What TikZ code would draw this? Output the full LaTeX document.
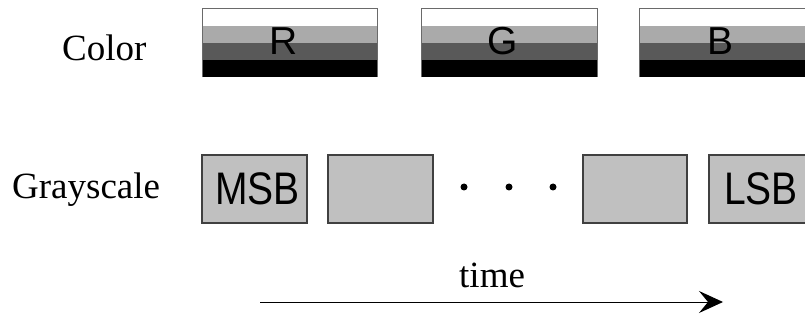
\documentclass[tikz,border=0pt]{standalone}
\usepackage{fontspec}
\usepackage{graphicx}
\setmainfont{Liberation Serif}
\newfontfamily\boxfont{Liberation Sans}
\usetikzlibrary{arrows.meta}
\definecolor{stripeA}{HTML}{AAAAAA}
\definecolor{stripeB}{HTML}{595959}
\definecolor{slotfill}{HTML}{C0C0C0}
\definecolor{slotedge}{HTML}{404040}
\definecolor{baredge}{HTML}{6A6A6A}
\tikzset{
  rowlabel/.style={anchor=base west, inner sep=0pt, font=\fontsize{37}{44}\selectfont},
  chanlabel/.style={anchor=base, inner sep=0pt, font=\boxfont\fontsize{39}{46}\selectfont},
  slotlabel/.style={anchor=base, inner sep=0pt, font=\boxfont\fontsize{39}{46}\selectfont},
  slot/.style={fill=slotfill, draw=slotedge, line width=1.1pt},
  dotmark/.style={circle, fill=black, draw=none, inner sep=0pt, minimum size=7pt},
  timearrow/.style={line width=1pt, -{Stealth[length=24pt, width=22pt, inset=9pt]}}
}
% one colour channel: four horizontal intensity stripes
\newcommand{\channelbar}[2]{%
  \fill[white]  (#1,9)  rectangle (#2,26);
  \fill[stripeA] (#1,26) rectangle (#2,43);
  \fill[stripeB] (#1,43) rectangle (#2,60);
  \fill[black]  (#1,60) rectangle (#2,77.5);
  \draw[baredge, line width=1pt] (#1,77.5) -- (#1,9) -- (#2,9) -- (#2,77.5);
}
\begin{document}
\begin{tikzpicture}[x=1pt, y=-1pt]
  \clip (0,0) rectangle (805,320);
  \useasboundingbox (0,0) rectangle (805,320);

  % row labels
  \node[rowlabel] (colorlbl) at (62,61) {Color};
  \node[rowlabel] (graylbl) at (12,199) {Grayscale};

  % colour frames
  \channelbar{202}{377}
  \channelbar{421}{597}
  \channelbar{639}{814}
  \node[chanlabel] (chR) at (283.5,55) {R};
  \node[chanlabel] (chG) at (502.5,55) {G};
  \node[chanlabel] (chB) at (720,55) {B};

  % grayscale bit planes
  \draw[slot] (202,155) rectangle (307,223);
  \draw[slot] (328,155) rectangle (433,223);
  \draw[slot] (583,155) rectangle (687,223);
  \draw[slot] (709,155) rectangle (814,223);
  \node[slotlabel] (msb) at (257.5,205) {\scalebox{1}[1.17]{MSB}};
  \node[slotlabel] (lsb) at (761,205) {\scalebox{1}[1.17]{LSB}};
  \node[dotmark] (d1) at (464,187) {};
  \node[dotmark] (d2) at (509,187) {};
  \node[dotmark] (d3) at (553,187) {};

  % time axis
  \node[rowlabel] (timelbl) at (459,287) {time};
  \coordinate (tstart) at (260,302);
  \coordinate (tend) at (723,302);
  \draw[timearrow] (tstart) -- (tend);
\end{tikzpicture}
\end{document}
